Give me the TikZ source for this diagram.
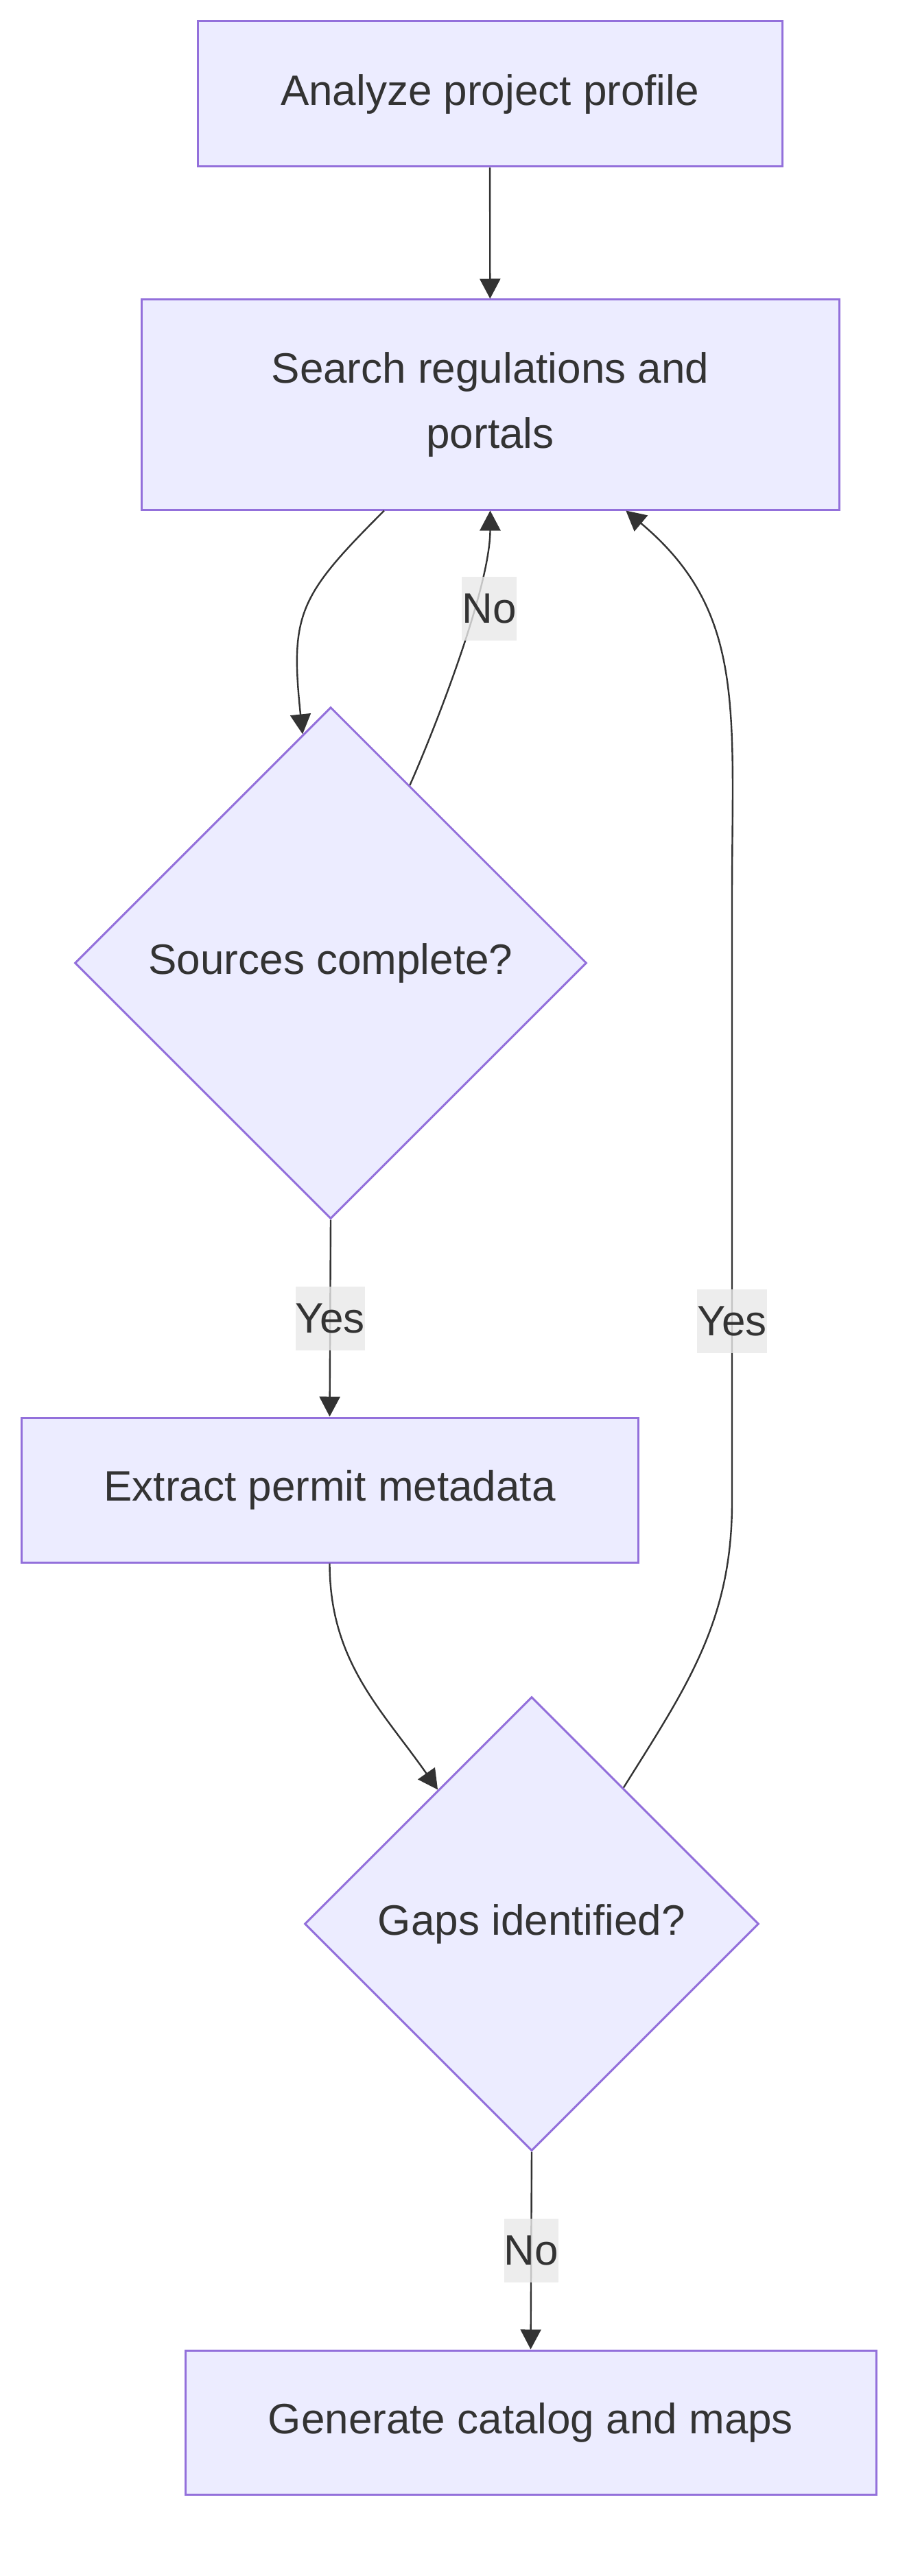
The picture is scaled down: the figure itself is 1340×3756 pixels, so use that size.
\documentclass[tikz,border=0pt]{standalone}
\usepackage{fontspec}
\setmainfont{Liberation Sans}
\usetikzlibrary{shapes.geometric, arrows.meta}
\definecolor{nodefill}{RGB}{236,236,255}
\definecolor{nodeline}{RGB}{147,112,219}
\definecolor{ink}{RGB}{51,51,51}
\definecolor{lblbg}{RGB}{232,232,232}

\begin{document}
\begin{tikzpicture}[x=0.25pt, y=-0.25pt,
    font=\fontsize{15.5pt}{23.75pt}\selectfont,
    box/.style={draw=nodeline, fill=nodefill, line width=0.75pt, text=ink,
      align=center, inner sep=0pt},
    choice/.style={diamond, aspect=1, draw=nodeline, fill=nodefill,
      line width=0.75pt, text=ink, inner sep=0pt},
    flow/.style={draw=ink, line width=0.6pt,
      -{Triangle[length=7.25pt, width=7.5pt]}},
    lbl/.style={fill=lblbg, fill opacity=0.8, text opacity=1, text=ink,
      inner xsep=0pt, inner ysep=0pt, minimum height=23.25pt}]
  % canvas, px units
  \useasboundingbox (0,0) rectangle (1340,3756);
  % Steps
  \node[box, minimum width=213pt, minimum height=53pt] (analyze) at (714,137) {Analyze project profile};
  \node[box, minimum width=254.25pt, minimum height=76.5pt] (search) at (714.5,590) {Search regulations and\\portals};
  \node[choice, minimum width=186.5pt, minimum height=186.5pt] (complete) at (482,1404) {Sources complete?};
  \node[box, minimum width=224.75pt, minimum height=52.75pt] (extract) at (480.5,2172.5) {Extract permit metadata};
  \node[choice, minimum width=165.5pt, minimum height=165.5pt] (gaps) at (775,2805) {Gaps identified?};
  \node[box, minimum width=251.75pt, minimum height=52.5pt] (catalog) at (773.5,3532) {Generate catalog and maps};
  % bends of the long loop
  \coordinate (loopb) at (1067,2190);
  \coordinate (loopt) at (1067,1310);
  % Connectors
  \draw[flow] (analyze) -- (search);
  \draw[flow] (search.225) to[out=225, in=96, looseness=1.3] (complete.97);
  \draw[flow] (complete.66) to[out=66, in=-90, out looseness=0.5, in looseness=0.7] (search.south);
  \node[lbl] (nosrc) at (713,887) {No};
  \draw[flow] (complete.south) -- node[lbl] (yessrc) {Yes} (extract.north);
  \draw[flow] (extract.south) to[out=-90, in=125] (gaps.125);
  \draw[flow] (gaps.56) to[out=58, in=-90] (loopb) -- node[lbl, pos=0.3] (yesgap) {Yes} (loopt)
    to[out=90, in=-40, out looseness=1.2] (search.-38.5);
  \draw[flow] (gaps.south) -- node[lbl] (nogap) {No} (catalog.north);
\end{tikzpicture}
\end{document}
